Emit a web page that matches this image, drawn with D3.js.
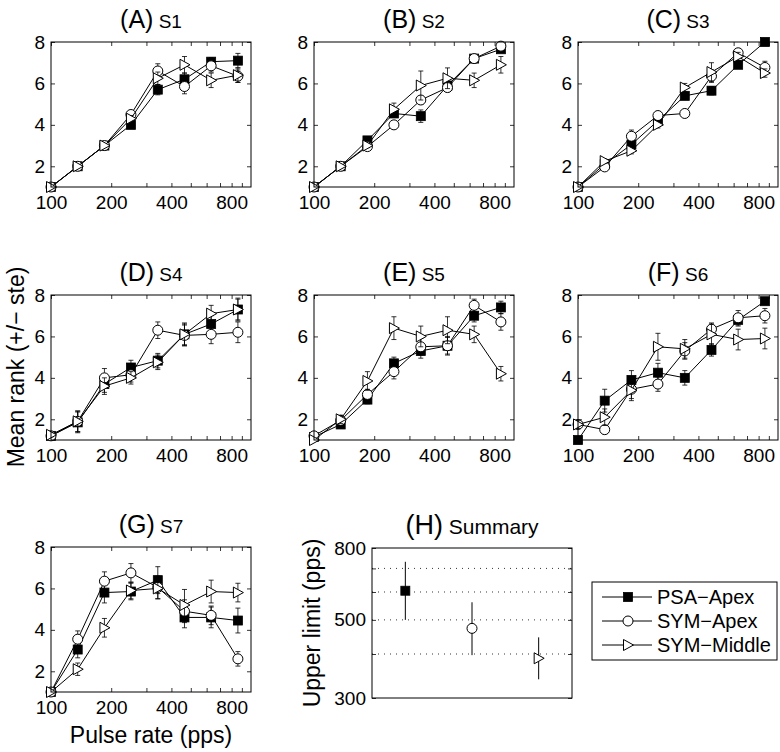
<!DOCTYPE html>
<html><head><meta charset="utf-8">
<script src="https://cdn.jsdelivr.net/npm/d3@7"></script>
<style>body{margin:0;background:#fff}svg{font-family:"Liberation Sans",Arial,Helvetica,sans-serif}</style>
</head><body><svg id="c" width="780" height="752"></svg>
<script>
// ---------------- data ----------------
const pulseRates = [100, 136, 185, 251, 342, 465, 632, 860];
const subjects = ["S1", "S2", "S3", "S4", "S5", "S6", "S7"];
const panelLetters = ["A", "B", "C", "D", "E", "F", "G"];
const seriesNames = ["PSA\u2212Apex", "SYM\u2212Apex", "SYM\u2212Middle"];

const psaApex = [
  [1, 2, 3, 4.0, 5.7, 6.2, 7.05, 7.1],
  [1, 2, 3.25, 4.55, 4.42, 5.9, 7.2, 7.65],
  [1, 2.1, 3.05, 4.2, 5.4, 5.65, 6.9, 8.0],
  [1.2, 1.85, 3.7, 4.5, 4.83, 6.1, 6.6, 7.3],
  [1.15, 1.75, 2.95, 4.7, 5.3, 5.55, 7.0, 7.4],
  [1.0, 2.9, 3.9, 4.25, 4.0, 5.35, 6.8, 7.7],
  [1, 3.05, 5.8, 5.85, 6.4, 4.6, 4.6, 4.45]
];
const psaApexErr = [
  [0, 0, 0, 0.1, 0.25, 0.3, 0.2, 0.35],
  [0, 0, 0.1, 0.15, 0.3, 0.2, 0.1, 0.1],
  [0, 0.1, 0.1, 0.1, 0.15, 0.2, 0.15, 0.05],
  [0.1, 0.5, 0.4, 0.35, 0.35, 0.5, 0.4, 0.5],
  [0.1, 0.15, 0.2, 0.3, 0.35, 0.4, 0.3, 0.3],
  [0, 0.55, 0.45, 0.45, 0.35, 0.3, 0.3, 0.1],
  [0, 0.4, 0.5, 0.4, 0.65, 0.5, 0.5, 0.6]
];
const symApex = [
  [1, 2, 3, 4.5, 6.6, 5.85, 6.85, 6.35],
  [1, 2, 2.95, 4.0, 5.2, 5.8, 7.2, 7.8],
  [1, 1.97, 3.45, 4.45, 4.55, 6.35, 7.48, 6.77],
  [1.2, 1.9, 4.0, 4.15, 6.3, 6.05, 6.1, 6.2],
  [1.2, 1.95, 3.2, 4.3, 5.5, 5.55, 7.5, 6.7],
  [1.75, 1.5, 3.45, 3.7, 5.3, 6.35, 6.9, 7.0],
  [1, 3.55, 6.35, 6.75, 6.05, 4.9, 4.7, 2.6]
];
const symApexErr = [
  [0, 0, 0, 0.15, 0.35, 0.35, 0.3, 0.3],
  [0, 0, 0.1, 0.1, 0.2, 0.2, 0.1, 0.1],
  [0, 0.1, 0.3, 0.15, 0.15, 0.3, 0.2, 0.3],
  [0.1, 0.5, 0.45, 0.35, 0.4, 0.5, 0.45, 0.5],
  [0.1, 0.15, 0.25, 0.35, 0.4, 0.45, 0.3, 0.4],
  [0.15, 0.2, 0.45, 0.35, 0.4, 0.3, 0.35, 0.35],
  [0, 0.4, 0.45, 0.45, 0.55, 0.55, 0.45, 0.35]
];
const symMiddle = [
  [1, 2, 3, 4.3, 6.25, 6.9, 6.15, 6.4],
  [1, 2, 3.0, 4.75, 5.9, 6.25, 6.15, 6.9],
  [1, 2.25, 2.75, 4.0, 5.8, 6.55, 7.3, 6.5],
  [1.25, 1.9, 3.6, 4.0, 4.75, 6.1, 7.1, 7.3],
  [1.0, 2.0, 3.85, 6.4, 6.0, 6.3, 6.1, 4.2],
  [1.75, 2.1, 3.4, 5.5, 5.4, 6.1, 5.85, 5.9],
  [1, 2.1, 4.1, 5.9, 6.0, 5.2, 5.85, 5.8]
];
const symMiddleErr = [
  [0, 0, 0, 0.15, 0.3, 0.4, 0.35, 0.35],
  [0, 0, 0.1, 0.3, 0.7, 0.5, 0.35, 0.4],
  [0, 0.1, 0.15, 0.15, 0.2, 0.45, 0.2, 0.2],
  [0.1, 0.5, 0.4, 0.3, 0.35, 0.55, 0.4, 0.55],
  [0, 0.2, 0.45, 0.55, 0.5, 0.65, 0.4, 0.35],
  [0.2, 0.4, 0.5, 0.65, 0.45, 0.5, 0.5, 0.5],
  [0, 0.3, 0.45, 0.4, 0.5, 0.75, 0.55, 0.45]
];

const xTickValues = [100, 200, 300, 400, 500, 600, 700, 800, 900];
const xTickLabels = [100, 200, 400, 800];
const yTickValues = [2, 4, 6, 8];

const summaryMean = [605, 473, 389];
const summaryLow = [500, 397, 339];
const summaryHigh = [731, 561, 446];
const summaryTickValues = [300, 400, 500, 600, 700, 800];
const summaryTickLabels = [300, 500, 800];
const summaryGrid = [400, 500, 600, 700];

// ---------------- drawing ----------------
const svg = d3.select("#c");
const W = 200, H = 145;
const colX = [51, 314, 578], rowY = [42, 295, 547];
const x = d3.scaleLog().domain([100, 1000]).range([0, W]);
const y = d3.scaleLinear().domain([1, 8]).range([H, 0]);
const seriesVals = [psaApex, symApex, symMiddle];
const seriesErrs = [psaApexErr, symApexErr, symMiddleErr];
const TICKFONT = 19;

function marker(g, type, cx, cy) {
  if (type === 0) {
    g.append("rect").attr("x", cx - 4.5).attr("y", cy - 4.5).attr("width", 9).attr("height", 9)
      .attr("fill", "#000").attr("stroke", "#000").attr("stroke-width", 0.8);
  } else if (type === 1) {
    g.append("circle").attr("cx", cx).attr("cy", cy).attr("r", 5)
      .attr("fill", "#fff").attr("stroke", "#000").attr("stroke-width", 1);
  } else {
    g.append("path").attr("d", `M${cx - 4.5},${cy - 5.5}L${cx + 5.5},${cy}L${cx - 4.5},${cy + 5.5}Z`)
      .attr("fill", "#fff").attr("stroke", "#000").attr("stroke-width", 1);
  }
}

function styleAxis(ax) {
  ax.select(".domain").remove();
  ax.selectAll(".tick line").attr("stroke", "#000").attr("stroke-width", 0.8);
  ax.selectAll("text").attr("font-size", TICKFONT).attr("font-family", '"Liberation Sans",Arial,sans-serif').attr("fill", "#000");
}

subjects.forEach((subj, p) => {
  const col = p % 3, row = Math.floor(p / 3);
  const g = svg.append("g").attr("transform", `translate(${colX[col]},${rowY[row]})`);

  // title
  const t = g.append("text").attr("x", W / 2).attr("y", -14).attr("text-anchor", "middle").attr("fill", "#000");
  t.append("tspan").attr("font-size", 25).text(`(${panelLetters[p]})`);
  t.append("tspan").attr("font-size", 19).text(" " + subj);

  // axes
  const fmt = d => xTickLabels.includes(d) ? String(d) : "";
  styleAxis(g.append("g").attr("transform", `translate(0,${H})`)
    .call(d3.axisBottom(x).tickValues(xTickValues).tickFormat(fmt).tickSizeInner(-4).tickSizeOuter(0).tickPadding(9)));
  styleAxis(g.append("g")
    .call(d3.axisTop(x).tickValues(xTickValues).tickFormat("").tickSizeInner(-4).tickSizeOuter(0)));
  styleAxis(g.append("g")
    .call(d3.axisLeft(y).tickValues(yTickValues).tickFormat(d3.format("d")).tickSizeInner(-4).tickSizeOuter(0).tickPadding(6)));
  styleAxis(g.append("g").attr("transform", `translate(${W},0)`)
    .call(d3.axisRight(y).tickValues(yTickValues).tickFormat("").tickSizeInner(-4).tickSizeOuter(0)));

  const line = d3.line().x((d, i) => x(pulseRates[i])).y(d => y(d));
  seriesVals.forEach((vals, s) => {
    const v = vals[p], e = seriesErrs[s][p];
    const sg = g.append("g");
    v.forEach((val, i) => {
      if (e[i] <= 0) return;
      const cx = x(pulseRates[i]);
      const y1 = y(val - e[i]), y2 = y(val + e[i]);
      sg.append("line").attr("x1", cx).attr("x2", cx).attr("y1", y1).attr("y2", y2).attr("stroke", "#000").attr("stroke-width", 0.8);
      [y1, y2].forEach(yy => sg.append("line").attr("x1", cx - 2.5).attr("x2", cx + 2.5).attr("y1", yy).attr("y2", yy).attr("stroke", "#000").attr("stroke-width", 0.8));
    });
    sg.append("path").attr("d", line(v)).attr("fill", "none").attr("stroke", "#000").attr("stroke-width", 1);
    v.forEach((val, i) => marker(sg, s, x(pulseRates[i]), y(val)));
  });

  g.append("rect").attr("width", W).attr("height", H).attr("fill", "none").attr("stroke", "#000").attr("stroke-width", 1);
});

// axis labels
svg.append("text").attr("transform", `translate(24,367) rotate(-90)`).attr("text-anchor", "middle")
  .attr("font-size", 23).attr("fill", "#000").text("Mean rank (+/\u2212 ste)");
svg.append("text").attr("x", 151).attr("y", 743).attr("text-anchor", "middle")
  .attr("font-size", 23).attr("fill", "#000").text("Pulse rate (pps)");

// ---------------- summary panel ----------------
const HX = 372, HY = 548, HW = 200, HH = 150;
const hg = svg.append("g").attr("transform", `translate(${HX},${HY})`);
const sx = d3.scaleLinear().domain([0.5, 3.5]).range([0, HW]);
const sy = d3.scaleLog().domain([300, 800]).range([HH, 0]);

const ht = hg.append("text").attr("x", HW / 2).attr("y", -14).attr("text-anchor", "middle").attr("fill", "#000");
ht.append("tspan").attr("font-size", 27).text("(H)");
ht.append("tspan").attr("font-size", 21).text(" Summary");

summaryGrid.forEach(v => hg.append("line").attr("x1", 0).attr("x2", HW).attr("y1", sy(v)).attr("y2", sy(v))
  .attr("stroke", "#000").attr("stroke-width", 0.8).attr("stroke-dasharray", "1,5"));

const sfmt = d => summaryTickLabels.includes(d) ? String(d) : "";
styleAxis(hg.append("g").call(d3.axisLeft(sy).tickValues(summaryTickValues).tickFormat(sfmt).tickSizeInner(-4).tickSizeOuter(0).tickPadding(6)));
styleAxis(hg.append("g").attr("transform", `translate(${HW},0)`).call(d3.axisRight(sy).tickValues(summaryTickValues).tickFormat("").tickSizeInner(-4).tickSizeOuter(0)));

summaryMean.forEach((m, i) => {
  const cx = sx(i + 1);
  hg.append("line").attr("x1", cx).attr("x2", cx).attr("y1", sy(summaryLow[i])).attr("y2", sy(summaryHigh[i]))
    .attr("stroke", "#000").attr("stroke-width", 1);
  marker(hg, i, cx, sy(m));
});
hg.append("rect").attr("width", HW).attr("height", HH).attr("fill", "none").attr("stroke", "#000").attr("stroke-width", 1);

svg.append("text").attr("transform", `translate(320,${HY + HH / 2}) rotate(-90)`).attr("text-anchor", "middle")
  .attr("font-size", 23).attr("fill", "#000").text("Upper limit (pps)");

// legend
const lg = svg.append("g").attr("transform", "translate(592,582)");
lg.append("rect").attr("width", 185).attr("height", 78).attr("fill", "#fff").attr("stroke", "#000").attr("stroke-width", 1);
seriesNames.forEach((name, i) => {
  const yy = 15 + i * 24;
  lg.append("line").attr("x1", 10).attr("x2", 60).attr("y1", yy).attr("y2", yy).attr("stroke", "#000").attr("stroke-width", 1);
  marker(lg, i, 36, yy);
  lg.append("text").attr("x", 65).attr("y", yy + 7).attr("font-size", 20).attr("fill", "#000").text(name);
});
</script></body></html>
